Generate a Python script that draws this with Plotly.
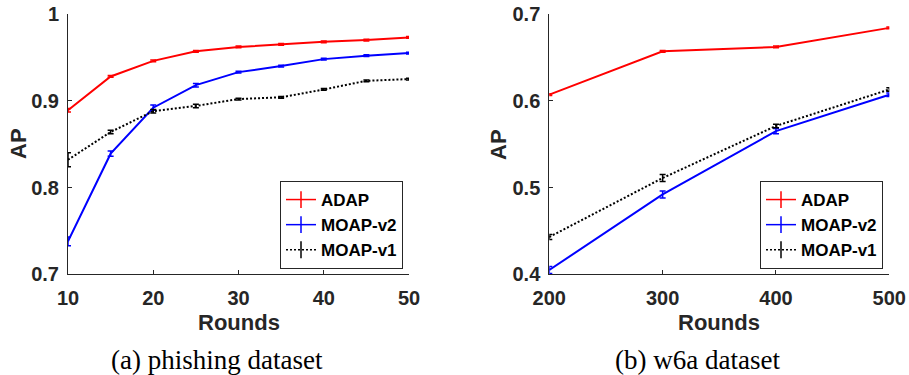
import plotly.graph_objects as go

# ---------------- data ----------------
rounds_a = [10, 15, 20, 25, 30, 35, 40, 45, 50]
adap_a = [0.889, 0.928, 0.946, 0.957, 0.962, 0.965, 0.968, 0.970, 0.973]
adap_a_err = [0.002, 0.001, 0.001, 0.001, 0.001, 0.001, 0.001, 0.001, 0.001]
moap2_a = [0.738, 0.839, 0.892, 0.918, 0.933, 0.940, 0.948, 0.952, 0.955]
moap2_a_err = [0.005, 0.003, 0.003, 0.002, 0.001, 0.001, 0.001, 0.001, 0.001]
moap1_a = [0.832, 0.864, 0.888, 0.894, 0.902, 0.904, 0.913, 0.923, 0.925]
moap1_a_err = [0.008, 0.002, 0.002, 0.002, 0.001, 0.001, 0.001, 0.001, 0.001]

rounds_b = [200, 300, 400, 500]
adap_b = [0.607, 0.657, 0.662, 0.684]
adap_b_err = [0.001, 0.001, 0.001, 0.001]
moap2_b = [0.405, 0.492, 0.565, 0.607]
moap2_b_err = [0.004, 0.004, 0.003, 0.002]
moap1_b = [0.443, 0.511, 0.571, 0.613]
moap1_b_err = [0.003, 0.004, 0.002, 0.002]

names = ["ADAP", "MOAP-v2", "MOAP-v1"]
colors = ["#ff0000", "#0000ff", "#000000"]
dashes = ["solid", "solid", "2px,2px"]

xticks_a = [10, 20, 30, 40, 50]
yticks_a = [0.7, 0.8, 0.9, 1.0]
yticklabels_a = ["0.7", "0.8", "0.9", "1"]
xticks_b = [200, 300, 400, 500]
yticks_b = [0.4, 0.5, 0.6, 0.7]

captions = ["(a) phishing dataset", "(b) w6a dataset"]

# ---------------- figure ----------------
W, H = 909, 375
fig = go.Figure()

series_a = [(adap_a, adap_a_err), (moap2_a, moap2_a_err), (moap1_a, moap1_a_err)]
series_b = [(adap_b, adap_b_err), (moap2_b, moap2_b_err), (moap1_b, moap1_b_err)]

for panel, (xs, series, xa, ya, lg) in enumerate([
        (rounds_a, series_a, "x", "y", "legend"),
        (rounds_b, series_b, "x2", "y2", "legend2")]):
    for (vals, errs), nm, c, d in zip(series, names, colors, dashes):
        fig.add_trace(go.Scatter(
            x=xs, y=vals, mode="lines", xaxis=xa, yaxis=ya,
            line=dict(color=c, width=2, dash=d),
            error_y=dict(type="data", array=errs, color=c, thickness=1.5, width=3),
            showlegend=False, cliponaxis=False))
    for nm, c, d in zip(names, colors, dashes):
        fig.add_trace(go.Scatter(
            x=[None], y=[None], mode="lines+markers", name=nm, xaxis=xa, yaxis=ya,
            line=dict(color=c, width=1.5, dash=d),
            marker=dict(symbol="line-ns-open", size=12, color=c,
                        line=dict(width=1.5, color=c)),
            legend=lg, showlegend=True))

axcol = "#262626"
tickfont = dict(family="Liberation Sans", size=20, color=axcol, weight="bold")

def xaxis_cfg(rng, ticks, dom, anchor):
    return dict(domain=dom, range=rng, tickvals=ticks, ticktext=[str(t) for t in ticks],
                showline=True, linecolor=axcol, linewidth=1, ticks="inside",
                ticklen=4, tickcolor=axcol, showgrid=False, zeroline=False,
                tickfont=tickfont, ticklabelstandoff=6, fixedrange=True,
                automargin=False, anchor=anchor)

def yaxis_cfg(rng, ticks, labels, anchor):
    return dict(domain=[1 - 274.3 / H, 1 - 14 / H], range=rng, tickvals=ticks,
                ticktext=labels, showline=True, linecolor=axcol, linewidth=1,
                ticks="inside", ticklen=4, tickcolor=axcol, showgrid=False,
                zeroline=False, tickfont=tickfont, ticklabelstandoff=4,
                anchor=anchor, fixedrange=True, automargin=False)

dom_a = [68 / W, 409 / W]
dom_b = [549.3 / W, 889.3 / W]

legend_common = dict(bgcolor="white", bordercolor=axcol, borderwidth=1,
                     font=dict(family="Liberation Sans", size=17, color="black", weight="bold"),
                     xanchor="right", yanchor="bottom", tracegroupgap=0, itemwidth=30,
                     y=1 - 269 / H)

fig.update_layout(
    width=W, height=H, margin=dict(l=0, r=0, t=0, b=0, autoexpand=False),
    paper_bgcolor="white", plot_bgcolor="white",
    xaxis=xaxis_cfg([10, 50], xticks_a, dom_a, "y"),
    yaxis=yaxis_cfg([0.7, 1.0], yticks_a, yticklabels_a, "x"),
    xaxis2=xaxis_cfg([200, 500], xticks_b, dom_b, "y2"),
    yaxis2=yaxis_cfg([0.4, 0.7], yticks_b, [str(t) for t in yticks_b], "x2"),
    legend=dict(x=403 / W, **legend_common),
    legend2=dict(x=883 / W, **legend_common),
)

titlefont = dict(family="Liberation Sans", size=22, color=axcol, weight="bold")
capfont = dict(family="Liberation Serif", size=27, color="black")

anns = []
for cx, apx in [((68 + 409) / 2, 18), ((549.3 + 889.3) / 2, 498)]:
    anns.append(dict(text="Rounds", x=cx / W, y=1 - 322.5 / H, xref="paper", yref="paper",
                     showarrow=False, xanchor="center", yanchor="middle", font=titlefont))
    anns.append(dict(text="AP", x=apx / W, y=1 - 144 / H, xref="paper", yref="paper",
                     showarrow=False, xanchor="center", yanchor="middle", textangle=-90,
                     font=titlefont))
for cap, cx in zip(captions, [217, 697]):
    anns.append(dict(text=cap, x=cx / W, y=1 - 360 / H, xref="paper", yref="paper",
                     showarrow=False, xanchor="center", yanchor="middle", font=capfont))
fig.update_layout(annotations=anns)

fig.write_html("out.html")
